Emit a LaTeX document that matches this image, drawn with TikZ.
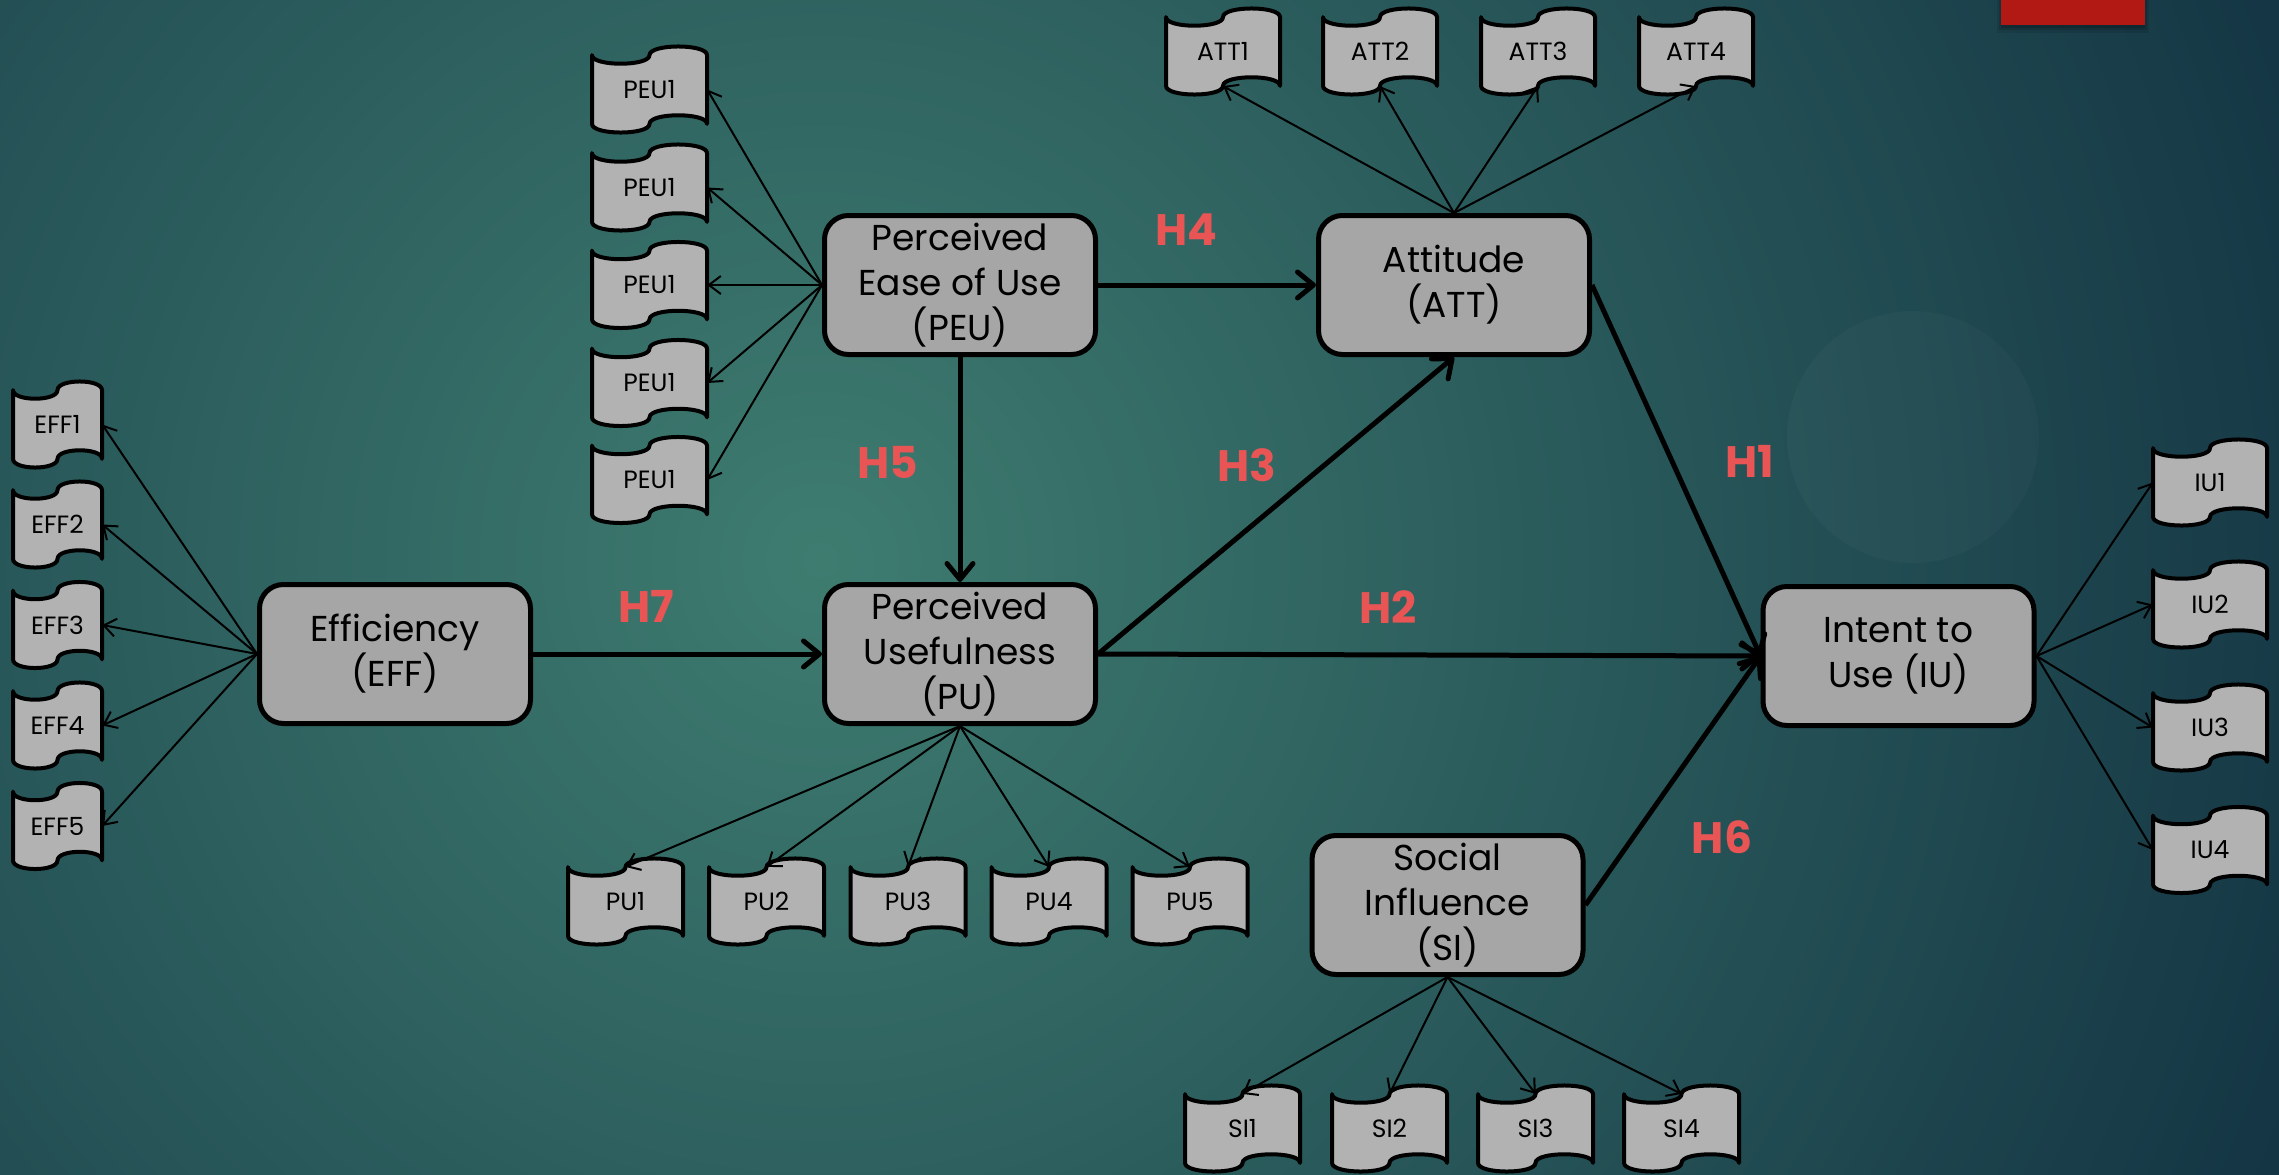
\documentclass[tikz,border=0pt]{standalone}
\usepackage{fontspec}
\setmainfont{Poppins}
\usetikzlibrary{arrows.meta}
\definecolor{boxgray}{RGB}{166,166,166}
\definecolor{docgray}{RGB}{178,178,178}
\definecolor{hred}{RGB}{233,85,85}
\definecolor{bginner}{RGB}{62,124,112}
\definecolor{bgouter}{RGB}{18,50,66}
\definecolor{slidered}{RGB}{178,24,20}
\tikzset{
  construct/.style={draw=black, line width=5pt, fill=boxgray, rounded corners=24pt,
    minimum width=271pt, minimum height=139pt, inner sep=0pt, align=center,
    font=\fontsize{36}{45}\selectfont, text=black},
  docline/.style={draw=black, line width=4pt, fill=docgray, line join=round},
  doctext/.style={inner sep=0pt, minimum height=68.8pt, font=\fontsize{25}{28}\selectfont, text=black},
  hyp/.style={text=hred, font=\fontsize{44}{50}\selectfont\bfseries, inner sep=0pt},
  strong/.style={line width=5pt, -{Straight Barb[length=16pt,width=26pt,round]}},
  loading/.style={line width=2pt, -{Straight Barb[length=12pt,width=18pt]}},
}
% name, x, y, width, label
\newcommand\docnode[5]{%
  \begin{scope}[shift={(#2,#3)}]
    \draw[docline] ({-#4/2},-34.4)
      .. controls ({-#4/2},-22.9) and (0,-22.9) .. (0,-34.4)
      .. controls (0,-45.9) and ({#4/2},-45.9) .. ({#4/2},-34.4)
      -- ({#4/2},34.4)
      .. controls ({#4/2},22.9) and (0,22.9) .. (0,34.4)
      .. controls (0,45.9) and ({-#4/2},45.9) .. ({-#4/2},34.4)
      -- cycle;
  \end{scope}
  \node[doctext, minimum width=#4pt] (#1) at (#2,#3) {#5};
}
\begin{document}
\begin{tikzpicture}[x=1pt,y=-1pt]
\useasboundingbox (0,0) rectangle (2279,1175);
% background
\begin{scope}
  \clip (0,0) rectangle (2279,1175);
  \fill[bgouter] (0,0) rectangle (2279,1175);
  \shade[inner color=bginner, outer color=bgouter] (820,560) circle (1650);
  \fill[white, opacity=0.025] (1913,437) circle (126);
  \fill[black, opacity=0.10] (1997,0) rectangle (2149,33);
  \fill[black, opacity=0.12] (1999,0) rectangle (2147,30);
  \fill[black, opacity=0.15] (2001,0) rectangle (2145,28);
  \fill[slidered] (2001,0) rectangle (2145,25);
\end{scope}

% constructs
\node[construct] (PEU) at (960,285) {Perceived\\Ease of Use\\(PEU)};
\node[construct] (ATT) at (1454,285) {Attitude\\(ATT)};
\node[construct] (EFF) at (395,654) {Efficiency\\(EFF)};
\node[construct] (PU) at (960,654) {Perceived\\Usefulness\\(PU)};
\node[construct] (IU) at (1898.5,656) {Intent to\\Use (IU)};
\node[construct] (SI) at (1447.5,905) {Social\\Influence\\(SI)};

% indicators
\docnode{peu1}{649.5}{89.5}{115}{PEU1}
\docnode{peu2}{649.5}{187.5}{115}{PEU1}
\docnode{peu3}{649.5}{285}{115}{PEU1}
\docnode{peu4}{649.5}{383}{115}{PEU1}
\docnode{peu5}{649.5}{480}{115}{PEU1}

\docnode{att1}{1223}{51.5}{114}{ATT1}
\docnode{att2}{1380}{51.5}{114}{ATT2}
\docnode{att3}{1538}{51.5}{114}{ATT3}
\docnode{att4}{1696}{51.5}{114}{ATT4}

\docnode{eff1}{57.5}{424.5}{89}{EFF1}
\docnode{eff2}{57.5}{524.5}{89}{EFF2}
\docnode{eff3}{57.5}{625}{89}{EFF3}
\docnode{eff4}{57.5}{725.5}{89}{EFF4}
\docnode{eff5}{57.5}{826}{89}{EFF5}

\docnode{pu1}{625.5}{901.5}{115}{PU1}
\docnode{pu2}{766.5}{901.5}{115}{PU2}
\docnode{pu3}{908}{901.5}{115}{PU3}
\docnode{pu4}{1049}{901.5}{115}{PU4}
\docnode{pu5}{1190}{901.5}{115}{PU5}

\docnode{si1}{1242.5}{1128.5}{115}{SI1}
\docnode{si2}{1389.5}{1128.5}{115}{SI2}
\docnode{si3}{1535.5}{1128.5}{115}{SI3}
\docnode{si4}{1681.5}{1128.5}{115}{SI4}

\docnode{iu1}{2210}{482.5}{114}{IU1}
\docnode{iu2}{2210}{604.5}{114}{IU2}
\docnode{iu3}{2210}{727.5}{114}{IU3}
\docnode{iu4}{2210}{850}{114}{IU4}

% hypotheses labels
\node[hyp] (h4) at (1186,230) {H4};
\node[hyp] (h5) at (888,462) {H5};
\node[hyp] (h3) at (1247,465) {H3};
\node[hyp] (h1) at (1750,461) {H1};
\node[hyp] (h7) at (646,606) {H7};
\node[hyp] (h2) at (1388,607) {H2};
\node[hyp] (h6) at (1722,837) {H6};

% structural paths
\draw[strong] (PEU.east) -- (ATT.west);
\draw[strong] (PEU.south) -- (PU.north);
\draw[strong] (EFF.east) -- (PU.west);
\draw[strong] (PU.east) -- (ATT.south);
\draw[strong] (PU.east) -- (IU.west);
\draw[strong] (ATT.east) -- (IU.west);
\draw[strong] (SI.east) -- (IU.west);

% measurement paths
\foreach \i in {1,...,5} \draw[loading] (PEU.west) -- (peu\i.east);
\foreach \i in {1,...,4} \draw[loading] (ATT.north) -- (att\i.south);
\foreach \i in {1,...,5} \draw[loading] (EFF.west) -- (eff\i.east);
\foreach \i in {1,...,5} \draw[loading] (PU.south) -- (pu\i.north);
\foreach \i in {1,...,4} \draw[loading] (SI.south) -- (si\i.north);
\foreach \i in {1,...,4} \draw[loading] (IU.east) -- (iu\i.west);
\end{tikzpicture}
\end{document}
